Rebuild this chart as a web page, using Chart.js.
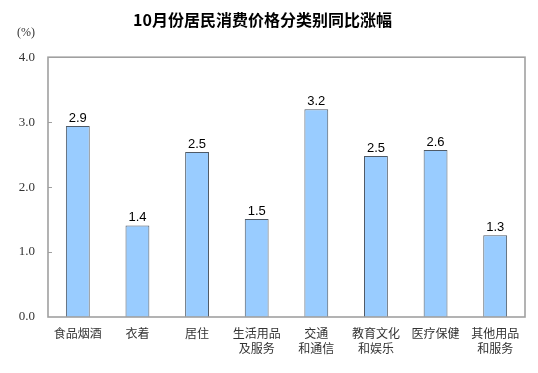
<!DOCTYPE html>
<html>
<head>
<meta charset="utf-8">
<script src="https://cdn.jsdelivr.net/npm/chart.js@4/dist/chart.umd.min.js"></script>
<style>
html,body{margin:0;padding:0;background:#fff;}
#wrap{width:538px;height:373px;}
</style>
</head>
<body>
<div id="wrap"><canvas id="c" width="538" height="373"></canvas></div>
<script>
const titleText = '10月份居民消费价格分类别同比涨幅';
const unitText = '(%)';
const categories = [
  '食品烟酒',
  '衣着',
  '居住',
  ['生活用品', '及服务'],
  ['交通', '和通信'],
  ['教育文化', '和娱乐'],
  '医疗保健',
  ['其他用品', '和服务']
];
const values = [2.94, 1.41, 2.54, 1.51, 3.2, 2.48, 2.57, 1.26];
const yTicks = [0, 1, 2, 3, 4];

const CJK = '"Noto Sans CJK SC", "Noto Sans", sans-serif';

const frame = {
  id: 'frame',
  afterDatasetsDraw(chart) {
    const ctx = chart.ctx;
    const a = chart.chartArea;
    const ys = chart.scales.y;
    ctx.save();
    // inner tick marks
    ctx.strokeStyle = '#a0a0a0';
    ctx.lineWidth = 1;
    yTicks.forEach(v => {
      if (v === 0 || v === 4) return;
      const y = Math.round(ys.getPixelForValue(v)) + 0.5;
      ctx.beginPath();
      ctx.moveTo(a.left, y);
      ctx.lineTo(a.left + 4, y);
      ctx.stroke();
    });
    // box
    ctx.strokeStyle = '#a0a0a0';
    ctx.lineWidth = 1.6;
    ctx.strokeRect(a.left, a.top, a.right - a.left, a.bottom - a.top);
    // data labels
    ctx.fillStyle = '#000';
    ctx.font = '13px "Liberation Sans", Arial, sans-serif';
    ctx.textAlign = 'center';
    ctx.textBaseline = 'bottom';
    const meta = chart.getDatasetMeta(0);
    meta.data.forEach((bar, i) => {
      ctx.fillText(values[i].toFixed(1), bar.x, bar.y - 1);
    });
    // unit label
    ctx.fillStyle = '#333';
    ctx.font = '12px "Liberation Serif", serif';
    ctx.textAlign = 'center';
    ctx.textBaseline = 'middle';
    ctx.fillText(unitText, 26, 33);
    ctx.restore();
  }
};

new Chart(document.getElementById('c'), {
  type: 'bar',
  data: {
    labels: categories,
    datasets: [{
      data: values,
      backgroundColor: '#99ccff',
      borderColor: '#4f5a66',
      borderWidth: 1,
      barPercentage: 0.4,
      categoryPercentage: 1.0
    }]
  },
  options: {
    responsive: false,
    animation: false,
    devicePixelRatio: 1,
    layout: { padding: { left: 0, right: 13, top: 0, bottom: 0 } },
    plugins: {
      legend: { display: false },
      tooltip: { enabled: false },
      title: {
        display: true,
        text: titleText,
        color: '#000',
        font: { family: CJK, size: 16, weight: 'bold', lineHeight: 1.2 },
        padding: { top: 10, bottom: 28 }
      }
    },
    scales: {
      x: {
        grid: { display: false, drawTicks: false },
        border: { display: false },
        ticks: {
          color: '#333',
          font: { family: CJK, size: 12, lineHeight: 1.25 },
          padding: 9,
          maxRotation: 0,
          autoSkip: false
        },
        afterFit(s) { s.height = 56; }
      },
      y: {
        min: 0,
        max: 4,
        grid: { display: false, drawTicks: false },
        border: { display: false },
        ticks: {
          stepSize: 1,
          color: '#333',
          font: { family: '"Liberation Serif", serif', size: 13 },
          padding: 13,
          callback: v => v.toFixed(1)
        },
        afterFit(s) { s.width = 48; }
      }
    }
  },
  plugins: [frame]
});
</script>
</body>
</html>
